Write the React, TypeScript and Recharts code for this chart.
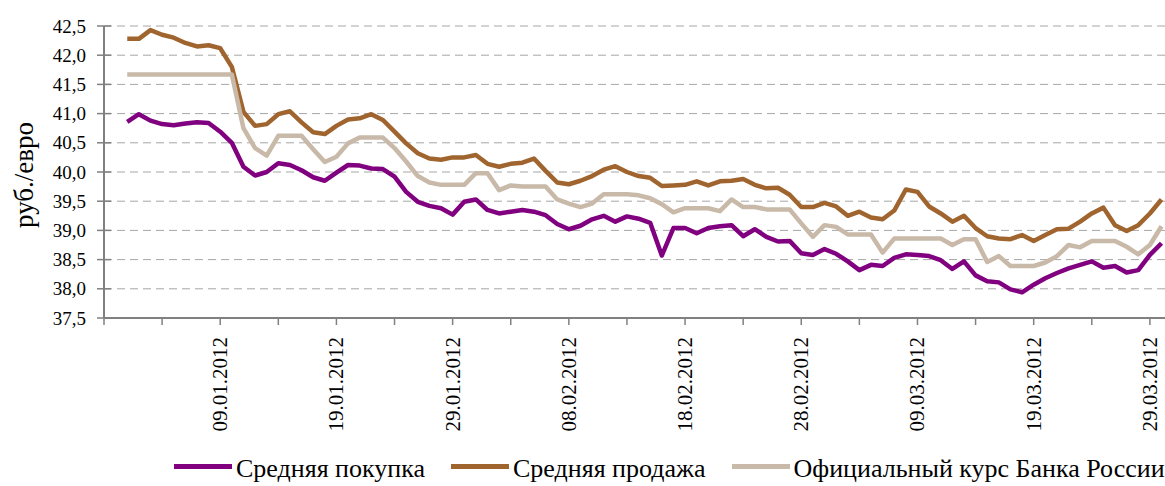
import React from 'react';
import { LineChart, Line, XAxis, YAxis, CartesianGrid, Label } from 'recharts';

// daily quotes, 01.01.2012 - 30.03.2012 (dd.mm)
const dates = [
  '01.01', '02.01', '03.01', '04.01', '05.01', '06.01', '07.01', '08.01', '09.01', '10.01',
  '11.01', '12.01', '13.01', '14.01', '15.01', '16.01', '17.01', '18.01', '19.01', '20.01',
  '21.01', '22.01', '23.01', '24.01', '25.01', '26.01', '27.01', '28.01', '29.01', '30.01', '31.01',
  '01.02', '02.02', '03.02', '04.02', '05.02', '06.02', '07.02', '08.02', '09.02', '10.02',
  '11.02', '12.02', '13.02', '14.02', '15.02', '16.02', '17.02', '18.02', '19.02', '20.02',
  '21.02', '22.02', '23.02', '24.02', '25.02', '26.02', '27.02', '28.02', '29.02',
  '01.03', '02.03', '03.03', '04.03', '05.03', '06.03', '07.03', '08.03', '09.03', '10.03',
  '11.03', '12.03', '13.03', '14.03', '15.03', '16.03', '17.03', '18.03', '19.03', '20.03',
  '21.03', '22.03', '23.03', '24.03', '25.03', '26.03', '27.03', '28.03', '29.03', '30.03',
];

const buyRates = [
  40.86, 40.99, 40.88, 40.82, 40.80, 40.83, 40.85, 40.84, 40.69, 40.50,
  40.09, 39.94, 40.00, 40.15, 40.12, 40.03, 39.91, 39.85, 39.99, 40.12,
  40.11, 40.06, 40.05, 39.92, 39.66, 39.49, 39.42, 39.38, 39.27, 39.49, 39.53,
  39.35, 39.29, 39.32, 39.35, 39.32, 39.26, 39.11, 39.02, 39.08, 39.19,
  39.25, 39.15, 39.24, 39.20, 39.13, 38.57, 39.04, 39.04, 38.95, 39.04,
  39.07, 39.09, 38.90, 39.02, 38.89, 38.81, 38.82, 38.61, 38.58,
  38.68, 38.60, 38.47, 38.32, 38.41, 38.39, 38.53, 38.59, 38.58, 38.56,
  38.49, 38.34, 38.47, 38.23, 38.13, 38.11, 37.99, 37.94, 38.07, 38.18,
  38.27, 38.35, 38.41, 38.47, 38.36, 38.39, 38.28, 38.32, 38.58, 38.78,
];

const sellRates = [
  42.28, 42.28, 42.43, 42.35, 42.30, 42.21, 42.15, 42.17, 42.12, 41.80,
  41.03, 40.79, 40.82, 40.99, 41.04, 40.85, 40.68, 40.65, 40.79, 40.90,
  40.92, 40.99, 40.89, 40.69, 40.49, 40.32, 40.23, 40.21, 40.25, 40.25, 40.29,
  40.14, 40.09, 40.14, 40.16, 40.23, 40.02, 39.82, 39.79, 39.85, 39.93,
  40.04, 40.10, 40.00, 39.93, 39.90, 39.76, 39.77, 39.78, 39.84, 39.77,
  39.84, 39.85, 39.88, 39.78, 39.72, 39.73, 39.61, 39.40, 39.40,
  39.47, 39.41, 39.25, 39.32, 39.22, 39.19, 39.34, 39.70, 39.66, 39.41,
  39.29, 39.15, 39.25, 39.04, 38.90, 38.86, 38.85, 38.92, 38.82, 38.92,
  39.02, 39.03, 39.15, 39.29, 39.39, 39.09, 38.99, 39.09, 39.29, 39.53,
];

const officialRates = [
  41.67, 41.67, 41.67, 41.67, 41.67, 41.67, 41.67, 41.67, 41.67, 41.67,
  40.75, 40.41, 40.28, 40.62, 40.62, 40.62, 40.39, 40.17, 40.26, 40.49,
  40.59, 40.59, 40.59, 40.41, 40.18, 39.93, 39.82, 39.78, 39.78, 39.78, 39.98,
  39.98, 39.69, 39.77, 39.75, 39.75, 39.75, 39.53, 39.46, 39.40, 39.46,
  39.62, 39.62, 39.62, 39.60, 39.55, 39.45, 39.31, 39.38, 39.38, 39.38,
  39.33, 39.53, 39.40, 39.40, 39.36, 39.36, 39.36, 39.12, 38.89,
  39.09, 39.06, 38.93, 38.93, 38.93, 38.62, 38.86, 38.86, 38.86, 38.86,
  38.86, 38.75, 38.85, 38.85, 38.46, 38.56, 38.39, 38.39, 38.39, 38.45,
  38.56, 38.75, 38.71, 38.82, 38.82, 38.82, 38.72, 38.59, 38.75, 39.07,
];

const xTickLabels = [
  '09.01.2012', '19.01.2012', '29.01.2012', '08.02.2012', '18.02.2012',
  '28.02.2012', '09.03.2012', '19.03.2012', '29.03.2012',
];
const yTicks = [37.5, 38, 38.5, 39, 39.5, 40, 40.5, 41, 41.5, 42, 42.5];

const seriesNames = ['Средняя покупка', 'Средняя продажа', 'Официальный курс Банка России'];
const seriesKeys = ['buy', 'sell', 'official'];
const colors = ['#800080', '#A0652F', '#C8B9A9'];

const W = 1165;
const H = 486;
const PLOT_LEFT = 104;
const PLOT_TOP = 26;
const PLOT_BOTTOM = 318;
const AXIS = '#808080';
const FONT = '"Times New Roman", "Liberation Serif", "DejaVu Serif", serif';

// days counted from 30.12.2011 (first axis tick)
const dayNumber = (s: string) => {
  const [dd, mm] = s.split('.').map(Number);
  if (mm === 1) return dd + 1;
  if (mm === 2) return dd + 32;
  return dd + 61;
};

const chartData = dates.map((d, i) => ({
  day: dayNumber(d),
  buy: buyRates[i],
  sell: sellRates[i],
  official: officialRates[i],
}));

const labelByDay: Record<number, string> = {};
xTickLabels.forEach(l => { labelByDay[dayNumber(l)] = l; });
const xTicks: number[] = [];
for (let d = 0; d <= 90; d += 5) xTicks.push(d);

const XTick = (props: any) => {
  const { x, payload } = props;
  const label = labelByDay[payload.value];
  return (
    <g>
      <line x1={x} x2={x} y1={PLOT_BOTTOM} y2={PLOT_BOTTOM + 7} stroke={AXIS} strokeWidth={1.5} />
      {label && (
        <text
          transform={`translate(${x},${PLOT_BOTTOM + 19}) rotate(-90)`}
          textAnchor="end"
          dominantBaseline="central"
          style={{ fontFamily: FONT, fontSize: 21 }}
          fill="#000"
        >
          {label}
        </text>
      )}
    </g>
  );
};

const YTick = (props: any) => {
  const { y, payload } = props;
  return (
    <g>
      <line x1={PLOT_LEFT - 7} x2={PLOT_LEFT + 7} y1={y} y2={y} stroke={AXIS} strokeWidth={1.5} />
      <text x={86} y={y} textAnchor="end" dominantBaseline="central" style={{ fontFamily: FONT, fontSize: 19 }} fill="#000">
        {payload.value.toFixed(1).replace('.', ',')}
      </text>
    </g>
  );
};

const YTitle = () => (
  <text
    transform="translate(24,175) rotate(-90)"
    textAnchor="middle"
    dominantBaseline="central"
    style={{ fontFamily: FONT, fontSize: 27 }}
    fill="#000"
  >
    руб./евро
  </text>
);

const App = () => {
  return (
    <div style={{ position: 'absolute', left: 0, top: 0, width: W, height: H, overflow: 'hidden', background: '#fff', fontFamily: FONT }}>
      <LineChart width={W} height={H} data={chartData} margin={{ top: PLOT_TOP, right: 0, left: 0, bottom: 0 }}>
        <CartesianGrid vertical={false} stroke="#A6A6A6" strokeDasharray="8 5" />
        <XAxis
          type="number"
          dataKey="day"
          domain={[0, 91.3]}
          ticks={xTicks}
          allowDataOverflow
          interval={0}
          height={H - PLOT_BOTTOM}
          axisLine={{ stroke: AXIS, strokeWidth: 2 }}
          tickLine={false}
          tick={<XTick />}
        />
        <YAxis
          type="number"
          domain={[37.5, 42.5]}
          ticks={yTicks}
          interval={0}
          width={PLOT_LEFT}
          axisLine={{ stroke: AXIS, strokeWidth: 2 }}
          tickLine={false}
          tick={<YTick />}
        >
          <Label content={<YTitle />} />
        </YAxis>
        {seriesKeys.map((k, i) => (
          <Line
            key={k}
            type="linear"
            dataKey={k}
            name={seriesNames[i]}
            stroke={colors[i]}
            strokeWidth={4.5}
            strokeLinejoin="round"
            dot={false}
            activeDot={false}
            isAnimationActive={false}
          />
        ))}
      </LineChart>
      <div
        style={{
          position: 'absolute',
          left: 174,
          top: 456,
          display: 'flex',
          alignItems: 'flex-start',
          gap: 26,
          fontFamily: FONT,
          fontSize: 26,
          lineHeight: '26px',
          whiteSpace: 'nowrap',
        }}
      >
        {seriesNames.map((name, i) => (
          <div key={name} style={{ display: 'flex', alignItems: 'flex-start' }}>
            <div style={{ width: 58, height: 5, marginTop: 8, marginRight: 4, background: colors[i] }} />
            <span>{name}</span>
          </div>
        ))}
      </div>
    </div>
  );
};

export default App;
